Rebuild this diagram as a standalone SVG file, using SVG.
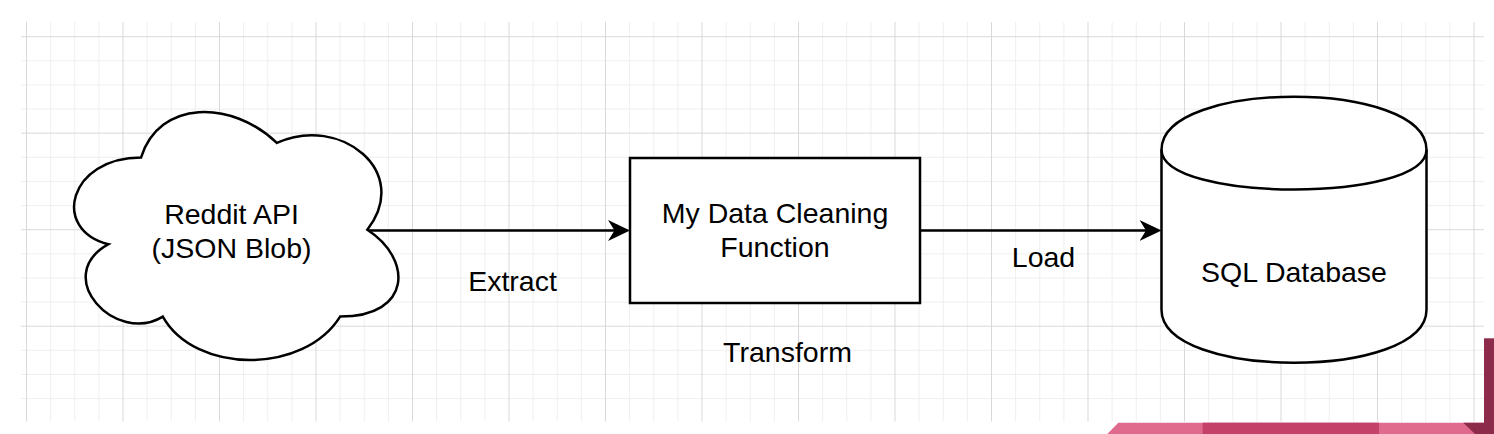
<svg xmlns="http://www.w3.org/2000/svg" width="1494" height="434" viewBox="0 0 1494 434">
<style>
.minor{stroke:#efefef;stroke-width:1;fill:none}
.major{stroke:#d9d9d9;stroke-width:1;fill:none}
.shape{fill:#ffffff;stroke:#000000;stroke-width:2.5}
.edge{fill:none;stroke:#000000;stroke-width:2.5}
text{font-family:"Liberation Sans",Arial,Helvetica,sans-serif;font-size:28.5px;fill:#000000;text-anchor:middle}
</style>
<defs>
<marker id="arrow" viewBox="0 0 22 21" refX="14" refY="10.5" markerWidth="22" markerHeight="21" markerUnits="userSpaceOnUse" orient="auto">
<path d="M0,0 L22,10.5 L0,21 L6.5,10.5 Z" fill="#000000"/>
</marker>
</defs>
<rect x="0" y="0" width="1494" height="434" fill="#ffffff"/>
<g id="grid">
<path class="minor" d="M50.625,22V421.5M74.75,22V421.5M98.875,22V421.5M147.125,22V421.5M171.25,22V421.5M195.375,22V421.5M243.625,22V421.5M267.75,22V421.5M291.875,22V421.5M340.125,22V421.5M364.25,22V421.5M388.375,22V421.5M436.625,22V421.5M460.75,22V421.5M484.875,22V421.5M533.125,22V421.5M557.25,22V421.5M581.375,22V421.5M629.625,22V421.5M653.75,22V421.5M677.875,22V421.5M726.125,22V421.5M750.25,22V421.5M774.375,22V421.5M822.625,22V421.5M846.75,22V421.5M870.875,22V421.5M919.125,22V421.5M943.25,22V421.5M967.375,22V421.5M1015.625,22V421.5M1039.75,22V421.5M1063.875,22V421.5M1112.125,22V421.5M1136.25,22V421.5M1160.375,22V421.5M1208.625,22V421.5M1232.75,22V421.5M1256.875,22V421.5M1305.125,22V421.5M1329.25,22V421.5M1353.375,22V421.5M1401.625,22V421.5M1425.75,22V421.5M1449.875,22V421.5M21,60.825H1484M21,84.95H1484M21,109.075H1484M21,157.325H1484M21,181.45H1484M21,205.575H1484M21,253.825H1484M21,277.95H1484M21,302.075H1484M21,350.325H1484M21,374.45H1484M21,398.575H1484"/>
<path class="major" d="M26.5,22V421.5M123,22V421.5M219.5,22V421.5M316,22V421.5M412.5,22V421.5M509,22V421.5M605.5,22V421.5M702,22V421.5M798.5,22V421.5M895,22V421.5M991.5,22V421.5M1088,22V421.5M1184.5,22V421.5M1281,22V421.5M1377.5,22V421.5M1474,22V421.5M21,36.7H1484M21,133.2H1484M21,229.7H1484M21,326.2H1484"/>
</g>
<g id="connectors">
<path class="edge" d="M367.3,230.5H622" marker-end="url(#arrow)"/>
<path class="edge" d="M920,230.5H1153.5" marker-end="url(#arrow)"/>
<text x="512.5" y="291">Extract</text>
<text x="1043.5" y="266.7">Load</text>
</g>
<g id="reddit-api">
<path class="shape" d="M141.1,157.4 C68.7,157.4 50.6,229.75 108.5,244.2 C50.6,276.1 115.7,345.55 162.8,316.6 C195.4,374.5 303.9,374.5 340.1,316.6 C412.5,316.6 412.5,258.7 367.3,229.75 C412.5,171.85 340.1,113.95 276.8,142.9 C231.55,99.5 159.2,99.5 141.1,157.4 Z"/>
<text x="231.5" y="224.3">Reddit API</text>
<text x="231.5" y="258.3">(JSON Blob)</text>
</g>
<g id="cleaning-function">
<rect class="shape" x="630" y="158" width="290" height="145"/>
<text x="775" y="223.3">My Data Cleaning</text>
<text x="775" y="257.3">Function</text>
</g>
<g id="transform-label">
<text x="787.5" y="361.7">Transform</text>
</g>
<g id="sql-database">
<path class="shape" d="M1161.5,149.7 C1161.5,79.03 1426.5,79.03 1426.5,149.7 L1426.5,309.7 C1426.5,380.37 1161.5,380.37 1161.5,309.7 Z"/>
<path class="edge" d="M1161.5,149.7 C1161.5,202.7 1426.5,202.7 1426.5,149.7"/>
<text x="1294" y="282.3">SQL Database</text>
</g>
<g id="corner-decoration">
<polygon points="1118.3,422.7 1494,422.7 1494,434 1107.3,434" fill="#e06a8e"/>
<rect x="1202.7" y="422.7" width="176.3" height="11.3" fill="#c44169"/>
<polygon points="1463.3,422.7 1494,422.7 1494,434 1475,434" fill="#8d2b4b"/>
<rect x="1484" y="338.3" width="10" height="95.7" fill="#8d2b4b"/>
</g>
</svg>
